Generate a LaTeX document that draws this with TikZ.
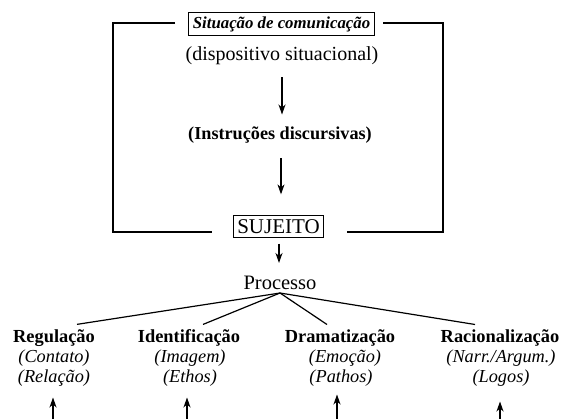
\documentclass[tikz,border=0pt]{standalone}
\usepackage{fontspec}
\setmainfont{Liberation Serif}
\usetikzlibrary{arrows.meta,calc}
\begin{document}
\begin{tikzpicture}[x=1pt,y=-1pt,
  every node/.style={font=\fontsize{20}{22}\selectfont, inner sep=0pt},
  ln/.style={line width=1.2pt},
  arr/.style={line width=1.2pt,-{Stealth[length=10pt,width=7pt,inset=3pt]}},
  boxed/.style={draw,line width=1.1pt,inner xsep=4pt,inner ysep=3.5pt},
  bf/.style={font=\fontsize{18.4}{20}\selectfont\bfseries},
  it/.style={font=\fontsize{18.3}{20}\selectfont\itshape}]
\useasboundingbox (0,0) rectangle (561,419);

% top part
\node[boxed,font=\fontsize{16.8}{19}\selectfont\bfseries\itshape] (sit) at (281.5,24) {Situação de comunicação};
\node (disp) at (282,56) {(dispositivo situacional)};
\node[font=\fontsize{18.2}{20}\selectfont\bfseries] (instr) at (280,135) {(Instruções discursivas)};
\node[boxed,font=\fontsize{21}{22}\selectfont] (suj) at (278.5,226.5) {SUJEITO};
\node[font=\fontsize{20.5}{22}\selectfont] (proc) at (280,283) {Processo};

% frame
\coordinate (tl1) at (175,23);
\coordinate (tl) at (113,23);
\coordinate (bl) at (113,232);
\coordinate (bl1) at (212,232);
\coordinate (tr1) at (383,23);
\coordinate (tr) at (443,23);
\coordinate (br) at (443,232);
\coordinate (br1) at (347,232);
\draw[ln] (tl1) -- (tl) -- (bl) -- (bl1);
\draw[ln] (tr1) -- (tr) -- (br) -- (br1);

% vertical arrows
\draw[arr,shorten <=12pt,shorten >=12pt] (disp.south -| 282,0) -- (instr.north -| 282,0);
\draw[arr,shorten <=15pt,shorten >=21pt] (instr.south -| 281,0) -- (suj.north -| 281,0);
\draw[arr,shorten <=6pt,shorten >=13pt] (suj.south -| 279,0) -- (proc.north -| 279,0);

% labels
\node[bf] (reg) at (54,338) {Regulação};
\node[it] (reg2) at (54,358) {(Contato)};
\node[it] (reg3) at (54,378) {(Relação)};

\node[bf] (ide) at (189,338) {Identificação};
\node[it] (ide2) at (190,358) {(Imagem)};
\node[it] (ide3) at (190,378) {(Ethos)};

\node[bf] (dra) at (340,338) {Dramatização};
\node[it] (dra2) at (345,358) {(Emoção)};
\node[it] (dra3) at (341,378) {(Pathos)};

\node[bf] (rac) at (500,338) {Racionalização};
\node[it] (rac2) at (501,358) {(Narr./Argum.)};
\node[it] (rac3) at (501,378) {(Logos)};

% branches
\coordinate (pb) at ([yshift=-3pt]proc.south);
\draw[ln] (pb) -- ([xshift=23pt,yshift=5pt]reg.north);
\draw[ln] (pb) -- ([xshift=14pt,yshift=5pt]ide.north);
\draw[ln] (pb) -- ([xshift=-13pt,yshift=5pt]dra.north);
\draw[ln] (pb) -- ([xshift=-25pt,yshift=5pt]rac.north);

% bottom up arrows
\coordinate (b1) at (53,421);
\coordinate (b2) at (187,421);
\coordinate (b3) at (337,421);
\coordinate (b4) at (500,421);
\draw[arr,shorten >=11pt] (b1) -- (b1 |- reg3.south);
\draw[arr,shorten >=11pt] (b2) -- (b2 |- ide3.south);
\draw[arr,shorten >=8pt] (b3) -- (b3 |- dra3.south);
\draw[arr,shorten >=15pt] (b4) -- (b4 |- rac3.south);
\end{tikzpicture}
\end{document}
